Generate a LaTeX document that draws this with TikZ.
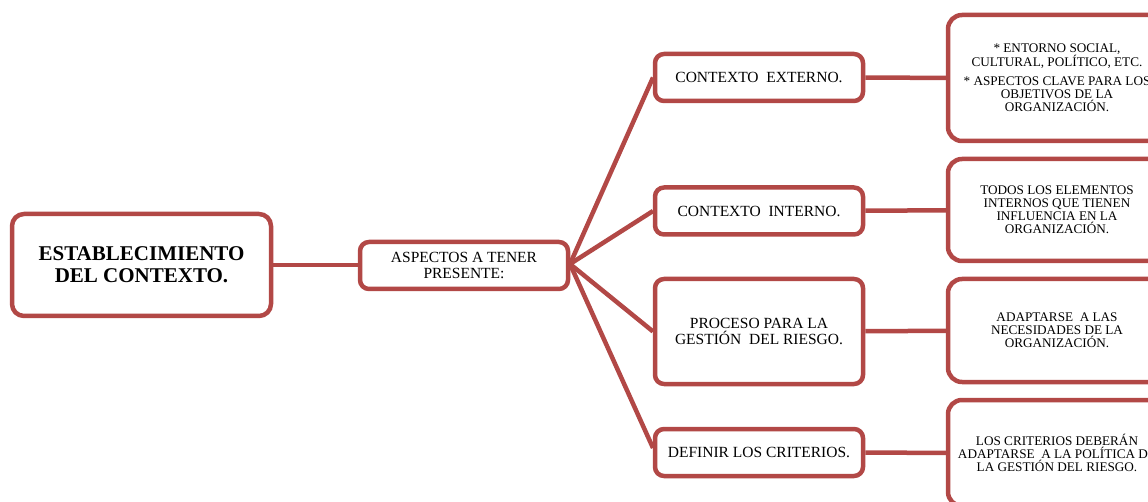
\documentclass[tikz,border=0pt]{standalone}
\usepackage{fontspec}
\setmainfont{Liberation Serif}
\usetikzlibrary{positioning}

\definecolor{boxred}{RGB}{178,72,70}

\begin{document}
\begin{tikzpicture}[
            x = 1pt, y = -1pt, % one unit per pixel, downwards
            line join = round
        ]

        \tikzstyle{every node}=[
            draw = boxred,
            line width = 4.5pt,
            fill = white,
            align = center,
            inner sep = 0pt
        ]
        \tikzstyle{mainbox}=[
            rounded corners = 12pt,
            minimum width = 259pt,
            minimum height = 102pt,
            font = \bfseries\fontsize{21}{22}\selectfont
        ]
        \tikzstyle{midbox}=[
            rounded corners = 9pt,
            minimum width = 208pt,
            minimum height = 47pt,
            font = \fontsize{15.5}{16}\selectfont
        ]
        \tikzstyle{notebox}=[
            rounded corners = 14pt,
            minimum width = 218pt,
            font = \fontsize{13.2}{13}\selectfont
        ]
        \tikzstyle{link}=[
            draw = boxred,
            line width = 4.5pt
        ]

        \useasboundingbox (0,0) rectangle (1148,502);
        \clip (0,0) rectangle (1148,502);

        % connectors first, boxes on top
        \coordinate (c1) at (273,265);
        \coordinate (c2) at (358,265);
        \coordinate (fan) at (570,264);
        \draw[link] (c1) -- (c2);
        \draw[link] (fan) -- (653,77.5) coordinate (e1);
        \draw[link] (fan) -- (653,211) coordinate (e2);
        \draw[link] (fan) -- (653,331.5) coordinate (e3);
        \draw[link] (fan) -- (653,448) coordinate (e4);

        % left side
        \node[mainbox] (establecimiento) at (141.5,265) {ESTABLECIMIENTO\\DEL CONTEXTO.};
        \node[midbox] (aspectos) at (464,265.5) {ASPECTOS A TENER\\PRESENTE:};

        % middle column
        \node[midbox] (externo) at (759,77.5) {CONTEXTO \ EXTERNO.};
        \node[midbox] (interno) at (759,211) {CONTEXTO \ INTERNO.};
        \node[midbox, minimum height = 105pt] (proceso) at (759,331.5) {PROCESO PARA LA\\GESTI\'ON \ DEL RIESGO.};
        \node[midbox] (criterios) at (759,452.5) {DEFINIR LOS CRITERIOS.};

        % right column
        \node[notebox, minimum height = 126pt] (nexterno) at (1057,78) {* ENTORNO SOCIAL,\\CULTURAL, POL\'ITICO, ETC.\\[6pt]* ASPECTOS CLAVE PARA LOS\\OBJETIVOS DE LA\\ORGANIZACI\'ON.};
        \node[notebox, minimum height = 102pt] (ninterno) at (1057,210) {TODOS LOS ELEMENTOS\\INTERNOS QUE TIENEN\\INFLUENCIA EN LA\\ORGANIZACI\'ON.};
        \node[notebox, minimum height = 103pt] (nproceso) at (1057,330.5) {ADAPTARSE \ A LAS\\NECESIDADES DE LA\\ORGANIZACI\'ON.};
        \node[notebox, minimum height = 106pt] (ncriterios) at (1057,453) {LOS CRITERIOS DEBER\'AN\\ADAPTARSE \ A LA POL\'ITICA DE\\LA GESTI\'ON DEL RIESGO.};

        \draw[link] (externo) -- (nexterno);
        \draw[link] (interno) -- (ninterno);
        \draw[link] (proceso) -- (nproceso);
        \draw[link] (criterios) -- (ncriterios);

    \end{tikzpicture}
\end{document}
